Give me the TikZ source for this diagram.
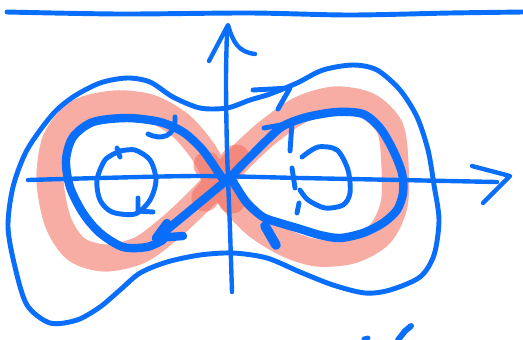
\documentclass[tikz,border=0pt]{standalone}
\definecolor{bocetoBlue}{HTML}{0A6EFD}
\definecolor{bocetoSalmon}{HTML}{F06A5A}
\usepackage{tikz}

\begin{document}
\begin{tikzpicture}[x=0.02cm, y=-0.02cm,
	trazo/.style={draw=bocetoBlue, line width=2.8pt, line cap=round, line join=round},
	trazoGrueso/.style={trazo, line width=4.8pt},
	eje/.style={trazo, line width=2.5pt},
	banda/.style={draw=bocetoSalmon, draw opacity=0.55, line width=15.5pt, line cap=round}]
	
	\useasboundingbox (0,0) rectangle (523,339);
	
	% Linea superior
	\draw[trazo] plot[smooth] coordinates {(7,12) (120,14) (250,13) (350,15) (450,13) (523,12)};
	
	% Lemniscata (banda)
	\draw[banda] plot[smooth] coordinates {(236,158) (220,178) (200,200) (170,228) (140,250)
		(105,258) (76,249) (58,222) (50,180) (56,140) (78,113) (115,104) (150,108) (180,125)
		(202,150) (218,178) (232,200)};
	\draw[banda] plot[smooth] coordinates {(205,198) (220,180) (240,158) (267,133) (300,110)
		(335,100) (368,106) (390,128) (395,165) (394,205) (380,234) (352,250) (318,253)
		(288,244) (258,226) (236,204) (220,182) (207,165)};
	
	% Ejes
	\draw[eje] plot[smooth] coordinates {(28,180) (100,178) (200,176) (300,178) (400,180) (497,182)};
	\draw[eje] (472,166) -- (510,176) -- (483,203);
	\draw[eje] plot[smooth] coordinates {(232,292) (230,230) (227,150) (226,80) (227,30)};
	\draw[eje] (209,61) -- (228,25) .. controls (233,42) and (238,52) .. (255,54);
	
	% Orbita exterior
	\draw[trazo] plot[smooth cycle] coordinates {(52,115) (73,97) (100,83) (127,78) (150,82)
		(173,97) (200,108) (227,108) (250,100) (270,94) (297,83) (323,70) (353,65) (377,70)
		(400,90) (417,117) (428,150) (434,185) (439,220) (434,255) (420,277) (390,290)
		(365,293) (333,285) (300,272) (267,258) (233,253) (200,255) (167,262) (140,273)
		(120,290) (100,307) (77,320) (50,323) (27,305) (15,267) (8,227) (13,187) (27,150)};
	\draw[trazo] (253,90) -- (290,88) -- (278,109);
	
	% Lazo izquierdo
	\draw[trazoGrueso] plot[smooth] coordinates {(222,178) (210,160) (200,147) (183,132)
		(160,122) (127,118) (93,122) (73,137) (66,160) (70,187) (83,213) (100,233) (123,247)
		(147,247) (163,240)};
	\draw[trazoGrueso] (227,180) -- (157,238);
	\draw[trazoGrueso] (167,223) -- (156,238) -- (183,236);
	\draw[trazo] (148,134) .. controls (160,140) and (176,138) .. (175,117);
	
	% Lazo derecho
	\draw[trazoGrueso] plot[smooth] coordinates {(230,178) (237,170) (250,157) (267,140)
		(283,126) (307,117) (337,112) (363,114) (380,128) (393,150) (402,173) (403,193)
		(397,210) (383,223) (363,233) (340,238) (320,235) (297,228) (280,223) (263,217)
		(247,203) (237,188) (232,180)};
	\draw[trazo] (264,128) -- (292,123) -- (290,151);
	\draw[trazoGrueso, line width=5.5pt] (265,226) -- (276,245);
	
	% Centros
	\draw[trazo] plot[smooth] coordinates {(118,152) (105,160) (97,180) (100,200) (112,212)
		(135,214) (150,200) (156,180) (150,160) (135,150) (120,151)};
	\draw[trazo] (117,148) -- (120,157);
	\draw[trazo] (138,198) -- (138,211) -- (153,212);
	\draw[trazo] plot[smooth] coordinates {(302,157) (318,147) (337,150) (348,170) (350,193)
		(343,205) (325,208) (308,200) (300,190)};
	\draw[trazo] (292,168) -- (295,188);
	\draw[trazo] (299,203) -- (297,213);
	
	% Marca inferior
	\draw[trazo, line width=3.4pt] (398,340) -- (405,331) -- (411,326);
	\draw[trazo] (364,339) -- (368,338);
	
\end{tikzpicture}
\end{document}
